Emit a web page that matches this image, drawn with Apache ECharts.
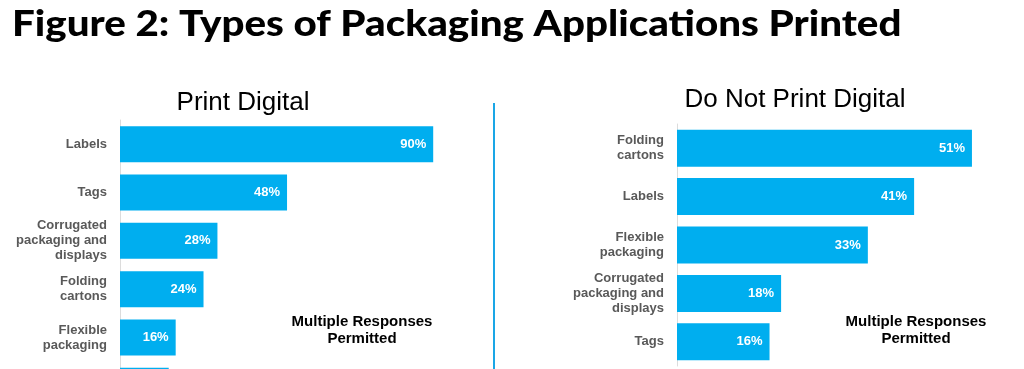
<!DOCTYPE html>
<html>
<head>
<meta charset="utf-8">
<script src="https://cdn.jsdelivr.net/npm/echarts@6/dist/echarts.min.js"></script>
<style>
  html, body { margin: 0; padding: 0; background: #fff; overflow: hidden; }
  /* taller than the window: the left panel runs on past the bottom edge */
  #chart { width: 1024px; height: 410px; }
</style>
</head>
<body>
<div id="chart"></div>
<script>
// print digital (left panel), last bar is cut off at the bottom of the picture
const printCats = ['Labels', 'Tags', 'Corrugated\npackaging and\ndisplays', 'Folding\ncartons', 'Flexible\npackaging', 'Other']
const printVals = [90, 48, 28, 24, 16, 14]

// do not print digital (right panel)
const noPrintCats = ['Folding\ncartons', 'Labels', 'Flexible\npackaging', 'Corrugated\npackaging and\ndisplays', 'Tags']
const noPrintVals = [51, 41, 33, 18, 16]

const barColor = '#00aeef'
const catLabel = {
  color: '#595959',
  fontFamily: 'Liberation Sans, Arial',
  fontWeight: 'bold',
  fontSize: 13,
  lineHeight: 15,
  margin: 13
}
const valLabel = {
  show: true,
  position: 'insideRight',
  offset: [-2, 0],
  color: '#fff',
  fontFamily: 'Liberation Sans, Arial',
  fontWeight: 'bold',
  fontSize: 13,
  formatter: '{c}%'
}

let myChart = echarts.init(document.getElementById('chart'))
let option = {
  backgroundColor: '#fff',
  animation: false,
  title: [
    {
      text: 'Print Digital',
      left: 238, top: 85, textAlign: 'center',
      textStyle: { fontFamily: 'Liberation Sans, Arial', fontWeight: 'normal', fontSize: 26, color: '#000' }
    },
    {
      text: 'Do Not Print Digital',
      left: 790, top: 82, textAlign: 'center',
      textStyle: { fontFamily: 'Liberation Sans, Arial', fontWeight: 'normal', fontSize: 26, color: '#000' }
    }
  ],
  graphic: [
    {
      // ZWNJ keeps Lato from joining "ti" into a ligature
      type: 'text', x: 12, y: 6, scaleX: 1.12,
      style: {
        text: 'Figure 2: Types of Packaging Applica\u200Ctions Printed',
        font: '900 36px Lato', fill: '#000'
      }
    },
    {
      type: 'line',
      shape: { x1: 494, y1: 103, x2: 494, y2: 410 },
      style: { stroke: '#1aa6e6', lineWidth: 2 }
    },
    {
      type: 'text',
      style: {
        x: 362, y: 313,
        text: 'Multiple Responses\nPermitted', textAlign: 'center',
        font: 'bold 15px Liberation Sans', fill: '#000', lineHeight: 17
      }
    },
    {
      type: 'text',
      style: {
        x: 916, y: 313,
        text: 'Multiple Responses\nPermitted', textAlign: 'center',
        font: 'bold 15px Liberation Sans', fill: '#000', lineHeight: 17
      }
    }
  ],
  grid: [
    { left: 120, top: 120, width: 348, height: 290 },
    { left: 677, top: 124, width: 348, height: 242 }
  ],
  xAxis: [
    { gridIndex: 0, type: 'value', min: 0, max: 100, show: false },
    { gridIndex: 1, type: 'value', min: 0, max: 60, show: false }
  ],
  yAxis: [
    {
      gridIndex: 0, type: 'category', inverse: true, data: printCats,
      axisLine: { lineStyle: { color: '#dcdcdc', width: 1 } },
      axisTick: { show: false },
      axisLabel: catLabel
    },
    {
      gridIndex: 1, type: 'category', inverse: true, data: noPrintCats,
      axisLine: { lineStyle: { color: '#dcdcdc', width: 1 } },
      axisTick: { show: false },
      axisLabel: catLabel
    }
  ],
  series: [
    {
      name: 'Print Digital', type: 'bar',
      xAxisIndex: 0, yAxisIndex: 0,
      data: printVals, barWidth: 36,
      itemStyle: { color: barColor },
      label: valLabel
    },
    {
      name: 'Do Not Print Digital', type: 'bar',
      xAxisIndex: 1, yAxisIndex: 1,
      data: noPrintVals, barWidth: 37,
      itemStyle: { color: barColor },
      label: valLabel
    }
  ]
}
myChart.setOption(option)
</script>
</body>
</html>
